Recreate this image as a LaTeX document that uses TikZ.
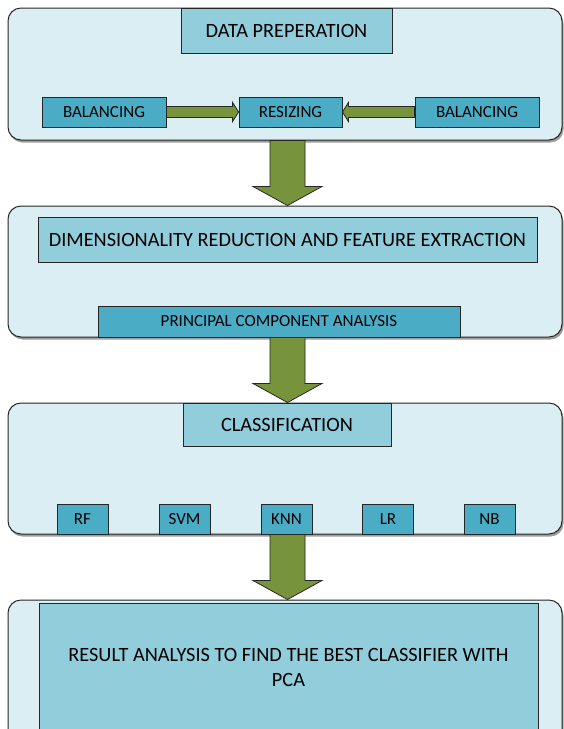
\documentclass[tikz,border=0pt]{standalone}
\usepackage{fontspec}
\setmainfont{Carlito}
\usetikzlibrary{calc,shadows}
\definecolor{contfill}{HTML}{DAEEF3}
\definecolor{titlefill}{HTML}{92CDDC}
\definecolor{smallfill}{HTML}{4BACC6}
\definecolor{arrowfill}{HTML}{77933C}
\definecolor{edgecol}{HTML}{262626}
\begin{document}
\begin{tikzpicture}[x=1pt,y=-1pt,
  container/.style={draw=edgecol, line width=1pt, fill=contfill, rounded corners=13pt,
    inner sep=0pt, minimum width=554pt,
    drop shadow={shadow xshift=1.5pt, shadow yshift=-2.5pt, fill=black!70, opacity=0.55}},
  titlebox/.style={draw=edgecol, line width=0.8pt, fill=titlefill, inner sep=0pt,
    font=\fontsize{20.3}{24}\selectfont, text=black},
  smallbox/.style={draw=edgecol, line width=0.8pt, fill=smallfill, inner sep=0pt,
    minimum height=30pt, font=\fontsize{17}{20}\selectfont, text=black},
  garrow/.style={draw=edgecol, line width=0.8pt, fill=arrowfill, line join=miter}
]
\useasboundingbox (0,0) rectangle (563,729);
\coordinate (ax) at (287.5,0);

% containers
\node[container, minimum height=132pt] (c1) at (285,74) {};
\node[container, minimum height=131pt] (c2) at (285,271.5) {};
\node[container, minimum height=131pt] (c3) at (285,468.5) {};
\node[container, minimum height=160pt] (c4) at (285,680) {};

% stage 1
\node[titlebox, minimum width=211pt, minimum height=45pt] (t1) at (286.5,30.5) {DATA PREPERATION};
\node[smallbox, minimum width=124pt] (balL) at (104,112) {BALANCING};
\node[smallbox, minimum width=103pt] (resz) at (290.5,112) {RESIZING};
\node[smallbox, minimum width=124pt] (balR) at (477,112) {BALANCING};

% stage 2
\node[titlebox, minimum width=499pt, minimum height=45pt] (dr) at (287.5,239.5) {DIMENSIONALITY REDUCTION AND FEATURE EXTRACTION};
\node[smallbox, minimum width=362pt, minimum height=31pt] (pca) at (279,321.5) {PRINCIPAL COMPONENT ANALYSIS};

% stage 3
\node[titlebox, minimum width=208pt, minimum height=43pt] (cls) at (287,424.5) {CLASSIFICATION};
\node[smallbox, minimum width=51pt] (rf)  at (82.5,519) {RF};
\node[smallbox, minimum width=51pt] (svm) at (184.5,519) {SVM};
\node[smallbox, minimum width=51pt] (knn) at (286.5,519) {KNN};
\node[smallbox, minimum width=51pt] (lr)  at (388,519) {LR};
\node[smallbox, minimum width=51pt] (nb)  at (489.5,519) {NB};

% stage 4
\node[titlebox, minimum width=499pt, minimum height=128pt, align=center,
  font=\fontsize{20.3}{25}\selectfont] (res) at (288.5,667)
  {RESULT ANALYSIS TO FIND THE BEST CLASSIFIER WITH\\PCA};

% horizontal arrows
\draw[garrow] ($(balL.east)+(0,-5.5)$) -- ($(resz.west)+(-6,-5.5)$) -- ($(resz.west)+(-6,-9.5)$)
  -- (resz.west) -- ($(resz.west)+(-6,9.5)$) -- ($(resz.west)+(-6,5.5)$) -- ($(balL.east)+(0,5.5)$) -- cycle;
\draw[garrow] ($(balR.west)+(0,-5.5)$) -- ($(resz.east)+(6,-5.5)$) -- ($(resz.east)+(6,-9.5)$)
  -- (resz.east) -- ($(resz.east)+(6,9.5)$) -- ($(resz.east)+(6,5.5)$) -- ($(balR.west)+(0,5.5)$) -- cycle;

% vertical block arrows
\draw[garrow] ($(c1.south -| ax)+(-17.5,0)$) -- ($(c2.north -| ax)+(-17.5,-19)$) -- ($(c2.north -| ax)+(-34.5,-19)$)
  -- (c2.north -| ax) -- ($(c2.north -| ax)+(34.5,-19)$) -- ($(c2.north -| ax)+(17.5,-19)$) -- ($(c1.south -| ax)+(17.5,0)$) -- cycle;
\draw[garrow] ($(pca.south -| ax)+(-17.5,0)$) -- ($(c3.north -| ax)+(-17.5,-19)$) -- ($(c3.north -| ax)+(-34.5,-19)$)
  -- (c3.north -| ax) -- ($(c3.north -| ax)+(34.5,-19)$) -- ($(c3.north -| ax)+(17.5,-19)$) -- ($(pca.south -| ax)+(17.5,0)$) -- cycle;
\draw[garrow] ($(knn.south -| ax)+(-17.5,0)$) -- ($(c4.north -| ax)+(-17.5,-19)$) -- ($(c4.north -| ax)+(-34.5,-19)$)
  -- (c4.north -| ax) -- ($(c4.north -| ax)+(34.5,-19)$) -- ($(c4.north -| ax)+(17.5,-19)$) -- ($(knn.south -| ax)+(17.5,0)$) -- cycle;
\end{tikzpicture}
\end{document}
